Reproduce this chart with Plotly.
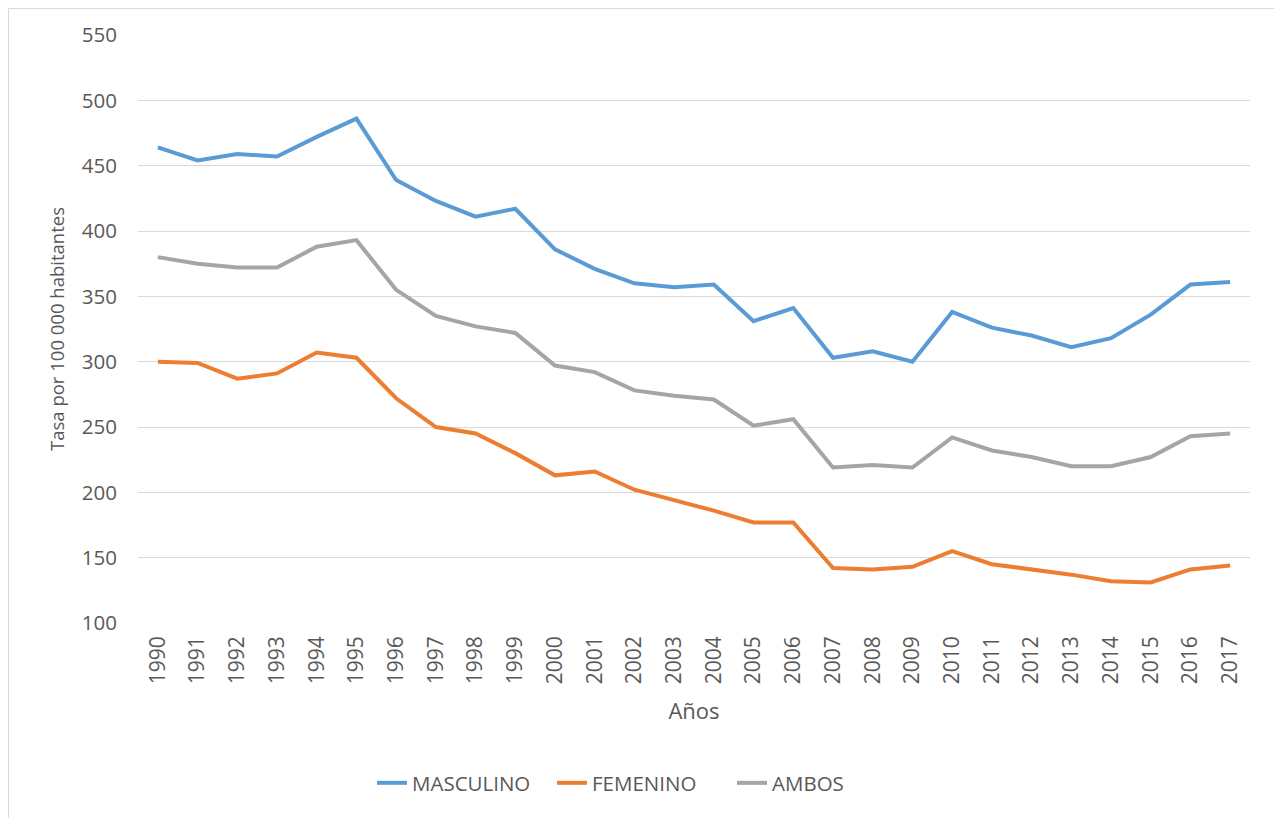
import plotly.graph_objects as go

years = [str(y) for y in range(1990, 2018)]
masculino = [464, 454, 459, 457, 472, 486, 439, 423, 411, 417, 386, 371, 360, 357, 359,
             331, 341, 303, 308, 300, 338, 326, 320, 311, 318, 336, 359, 361]
femenino = [300, 299, 287, 291, 307, 303, 272, 250, 245, 230, 213, 216, 202, 194, 186,
            177, 177, 142, 141, 143, 155, 145, 141, 137, 132, 131, 141, 144]
ambos = [380, 375, 372, 372, 388, 393, 355, 335, 327, 322, 297, 292, 278, 274, 271,
         251, 256, 219, 221, 219, 242, 232, 227, 220, 220, 227, 243, 245]

series = [("MASCULINO", masculino, "#5B9BD5"),
          ("FEMENINO", femenino, "#ED7D31"),
          ("AMBOS", ambos, "#A5A5A5")]

FONT = "Open Sans"
TXT = "#595959"

fig = go.Figure()
for name, vals, col in series:
    fig.add_trace(go.Scatter(x=years, y=vals, mode="lines", name=name,
                             line=dict(color=col, width=4)))

# figure is drawn inside the page's 8px body margin
L, R, T, B = 130, 32, 27, 195
W, H = 1274, 810
pw = W - L - R
ph = H - T - B

fig.update_layout(
    width=W, height=H,
    paper_bgcolor="white", plot_bgcolor="white",
    margin=dict(l=L, r=R, t=T, b=B),
    font=dict(family=FONT, size=18, color=TXT),
    showlegend=True,
    legend=dict(orientation="h", x=(364 - L) / pw, xanchor="left",
                y=-(775 - T - ph) / ph, yanchor="middle",
                entrywidth=135, entrywidthmode="pixels",
                font=dict(family=FONT, size=20.5, color=TXT)),
    shapes=[dict(type="rect", xref="paper", yref="paper",
                 x0=(0.5 - L) / pw, x1=(1271 - L) / pw,
                 y0=-(H + 10 - T - ph) / ph, y1=(ph + T - 0.5) / ph,
                 line=dict(color="#D9D9D9", width=1))],
)
fig.update_xaxes(type="category", range=[-0.5, 27.5], tickangle=-90,
                 showgrid=False, showline=False, ticks="",
                 ticklabelstandoff=8,
                 title=dict(text="Años", font=dict(family=FONT, size=22, color=TXT), standoff=20),
                 tickfont=dict(family=FONT, size=21, color=TXT))
fig.update_yaxes(range=[100, 550], dtick=50, showgrid=True, gridcolor="#D9D9D9", gridwidth=1,
                 zeroline=False, showline=False, ticks="", ticklabelstandoff=20,
                 title=dict(text="Tasa por 100 000 habitantes", font=dict(family=FONT, size=18.5, color=TXT), standoff=12),
                 tickfont=dict(family=FONT, size=20.5, color=TXT))

fig.write_html("out.html")
